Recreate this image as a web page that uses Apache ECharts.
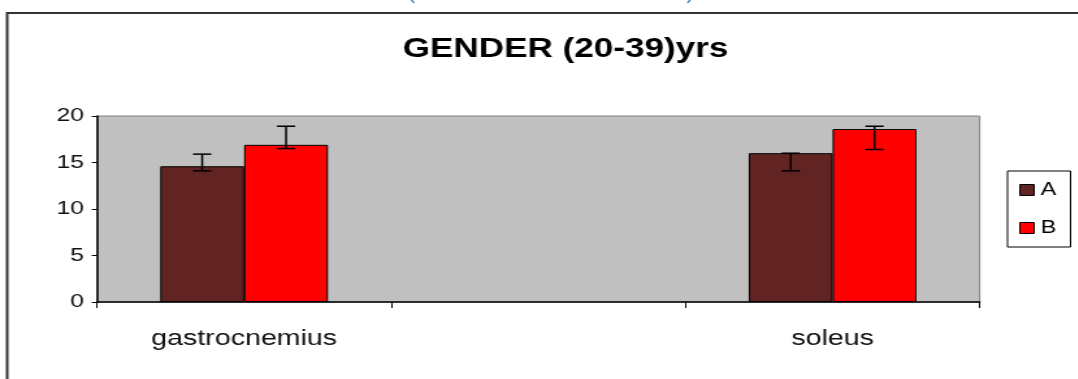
<!DOCTYPE html>
<html>
<head>
<meta charset="utf-8">
<title>GENDER (20-39)yrs</title>
<style>
  html, body { margin: 0; padding: 0; background: #fff; overflow: hidden; }
  #main { height: 379px; transform-origin: 0 0; }
</style>
</head>
<body>
<div id="main"></div>
<script src="https://cdn.jsdelivr.net/npm/echarts@6/dist/echarts.min.js"></script>
<script>
// data
var categories = ['gastrocnemius', '', 'soleus'];
var seriesA = [14.6, null, 16.0];
var seriesB = [16.9, null, 18.6];
var errA_low = [14.1, null, 14.1];
var errA_high = [15.9, null, 16.0];
var errB_low = [16.5, null, 16.4];
var errB_high = [18.9, null, 18.9];
var yMin = 0, yMax = 20, yStep = 5;

// the original picture is stretched sideways, so draw narrow and stretch the box
var SX = 1.3;
var el = document.getElementById('main');
el.style.width = (1078 / SX) + 'px';
el.style.transform = 'scaleX(' + SX + ')';

var FONT = '"Liberation Sans", Arial, sans-serif';
var BAR_SHARE = 0.57;

function errData(lo, hi) {
    var d = [];
    for (var i = 0; i < categories.length; i++) {
        if (lo[i] != null) d.push([i, lo[i], hi[i]]);
    }
    return d;
}

function errorBars(side) {
    return function (params, api) {
        var cat = api.value(0);
        var band = api.size([1, 0])[0];
        var barW = band * BAR_SHARE / 2;
        var x = api.coord([cat, 0])[0] + side * barW / 2;
        var yLo = api.coord([cat, api.value(1)])[1];
        var yHi = api.coord([cat, api.value(2)])[1];
        var cap = 7;
        var st = { stroke: '#000', lineWidth: 1.5 };
        return {
            type: 'group',
            children: [
                { type: 'line', shape: { x1: x, y1: yHi, x2: x, y2: yLo }, style: st },
                { type: 'line', shape: { x1: x - cap, y1: yHi, x2: x + cap, y2: yHi }, style: st },
                { type: 'line', shape: { x1: x - cap, y1: yLo, x2: x + cap, y2: yLo }, style: st }
            ]
        };
    };
}

var myChart = echarts.init(el);
var option = {
    backgroundColor: '#fff',
    animation: false,
    textStyle: { fontFamily: FONT },
    title: {
        text: 'GENDER (20-39)yrs',
        left: 430,
        textAlign: 'center',
        top: 31,
        textStyle: { fontFamily: FONT, fontSize: 27, fontWeight: 'bold', color: '#000' }
    },
    graphic: [
        { type: 'rect', shape: { x: 5.5, y: 13, width: 900, height: 500 },
          style: { fill: 'none', stroke: '#333', lineWidth: 2 }, silent: true },
        { type: 'text', left: 314, top: -12, style: { text: '(', fill: '#2e6db5', font: '16px ' + FONT } },
        { type: 'text', left: 528, top: -12, style: { text: ')', fill: '#2e6db5', font: '16px ' + FONT } }
    ],
    legend: {
        data: ['A', 'B'],
        orient: 'vertical',
        left: 775,
        top: 171,
        padding: [9, 11, 9, 9],
        itemGap: 18,
        itemWidth: 11,
        itemHeight: 11,
        itemStyle: { borderColor: '#000', borderWidth: 1 },
        icon: 'rect',
        borderColor: '#000',
        borderWidth: 1,
        textStyle: { fontFamily: FONT, fontSize: 18, color: '#000', lineHeight: 20 }
    },
    grid: {
        left: 97 / SX,
        right: (1078 - 980) / SX,
        top: 116,
        bottom: 379 - 302,
        show: true,
        backgroundColor: '#c0c0c0',
        borderColor: '#808080',
        borderWidth: 1,
        containLabel: false
    },
    xAxis: {
        type: 'category',
        data: categories,
        axisLine: { lineStyle: { color: '#000', width: 1.5 } },
        axisTick: { show: true, length: 6, alignWithLabel: false, lineStyle: { color: '#000' } },
        axisLabel: { fontFamily: FONT, fontSize: 22, color: '#111', margin: 26, interval: 0 },
        splitLine: { show: false }
    },
    yAxis: {
        type: 'value',
        min: yMin,
        max: yMax,
        interval: yStep,
        axisLine: { show: true, lineStyle: { color: '#000', width: 1.5 } },
        axisTick: { show: true, length: 4, lineStyle: { color: '#000' } },
        axisLabel: { fontFamily: FONT, fontSize: 19, color: '#111', margin: 10 },
        splitLine: { show: false }
    },
    series: [
        {
            name: 'A', type: 'bar', data: seriesA,
            barGap: '0%', barCategoryGap: '43%',
            itemStyle: { color: '#622423', borderColor: '#000', borderWidth: 1 }
        },
        {
            name: 'B', type: 'bar', data: seriesB,
            barGap: '0%', barCategoryGap: '43%',
            itemStyle: { color: '#ff0000', borderColor: '#000', borderWidth: 1 }
        },
        {
            name: 'errA', type: 'custom', renderItem: errorBars(-1),
            data: errData(errA_low, errA_high), encode: { x: 0, y: [1, 2] }, z: 10
        },
        {
            name: 'errB', type: 'custom', renderItem: errorBars(1),
            data: errData(errB_low, errB_high), encode: { x: 0, y: [1, 2] }, z: 10
        }
    ]
};
myChart.setOption(option);
</script>
</body>
</html>
